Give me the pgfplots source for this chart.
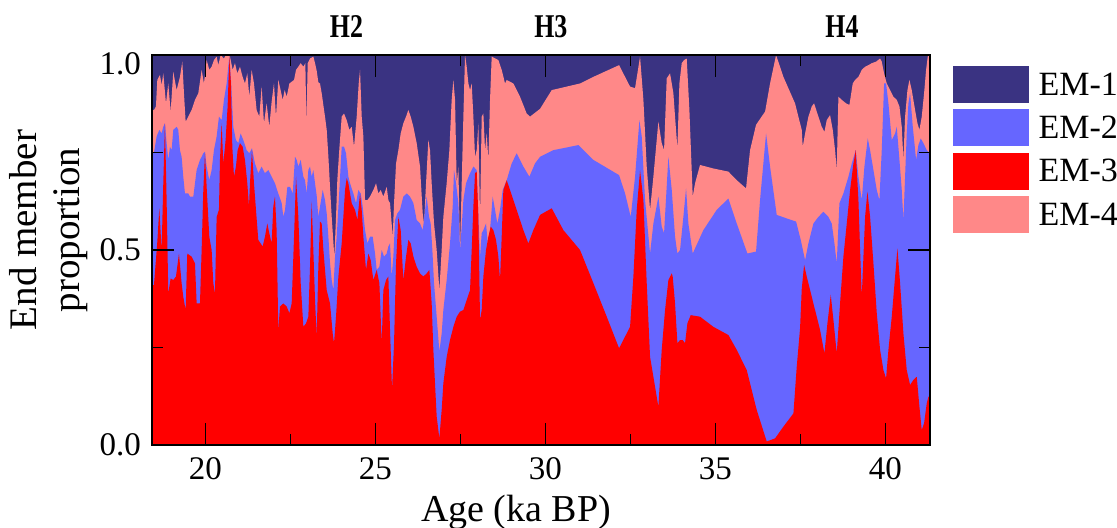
\documentclass[border=0pt]{standalone}
\usepackage{pgfplots}
\pgfplotsset{compat=1.18}
\usepackage{pgfplotstable}
\usepackage{fontspec}
\setmainfont{Liberation Serif}
\definecolor{emone}{HTML}{3A3382}
\definecolor{emtwo}{HTML}{6666FF}
\definecolor{emthree}{HTML}{FF0000}
\definecolor{emfour}{HTML}{FF8888}

% top of EM-3 (cumulative)
\pgfplotstableread{
x y
18.43 0.410
18.488 0.410
18.586 0.521
18.645 0.607
18.713 0.500
18.762 0.671
18.811 0.825
18.860 0.628
18.909 0.389
18.978 0.427
19.056 0.423
19.135 0.432
19.223 0.491
19.301 0.415
19.350 0.380
19.419 0.346
19.468 0.491
19.595 0.483
19.694 0.466
19.743 0.363
19.841 0.363
19.890 0.500
19.939 0.654
19.988 0.748
20.037 0.662
20.115 0.534
20.184 0.500
20.233 0.415
20.282 0.389
20.331 0.585
20.399 0.603
20.429 0.731
20.478 0.825
20.527 0.722
20.595 0.782
20.654 0.868
20.703 0.996
20.752 0.927
20.792 0.765
20.841 0.688
20.899 0.714
20.948 0.756
21.017 0.774
21.095 0.765
21.164 0.731
21.233 0.671
21.282 0.611
21.311 0.671
21.370 0.756
21.429 0.671
21.488 0.603
21.556 0.526
21.625 0.517
21.684 0.509
21.752 0.534
21.821 0.568
21.880 0.543
21.948 0.517
21.997 0.611
22.046 0.637
22.095 0.551
22.144 0.295
22.194 0.355
22.293 0.363
22.391 0.355
22.470 0.338
22.538 0.363
22.607 0.534
22.666 0.688
22.734 0.585
22.803 0.415
22.881 0.303
22.960 0.312
23.028 0.329
23.077 0.457
23.126 0.624
23.175 0.500
23.224 0.372
23.273 0.278
23.322 0.457
23.371 0.573
23.420 0.568
23.470 0.500
23.568 0.397
23.666 0.363
23.744 0.286
23.783 0.261
23.842 0.329
23.911 0.432
24.009 0.517
24.107 0.654
24.156 0.684
24.205 0.671
24.303 0.620
24.401 0.603
24.470 0.577
24.548 0.645
24.597 0.603
24.646 0.534
24.724 0.449
24.793 0.491
24.862 0.474
24.940 0.423
25.038 0.449
25.117 0.415
25.185 0.261
25.234 0.397
25.313 0.423
25.381 0.432
25.430 0.295
25.489 0.141
25.548 0.261
25.607 0.466
25.675 0.585
25.744 0.551
25.822 0.423
25.901 0.483
25.969 0.526
26.038 0.517
26.117 0.483
26.214 0.457
26.312 0.440
26.410 0.432
26.508 0.440
26.587 0.449
26.655 0.363
26.704 0.244
26.753 0.158
26.802 0.073
26.881 0.017
26.949 0.090
26.998 0.158
27.096 0.226
27.194 0.269
27.293 0.303
27.391 0.329
27.489 0.342
27.587 0.346
27.685 0.372
27.783 0.397
27.832 0.500
27.881 0.611
27.930 0.697
27.979 0.701
28.028 0.585
28.077 0.321
28.126 0.346
28.175 0.432
28.253 0.500
28.322 0.534
28.391 0.560
28.469 0.551
28.547 0.526
28.616 0.483
28.665 0.423
28.714 0.534
28.763 0.654
28.861 0.679
28.959 0.654
29.155 0.603
29.351 0.551
29.498 0.517
29.645 0.551
29.842 0.590
30.185 0.607
30.528 0.551
31.018 0.500
31.411 0.415
31.803 0.329
32.166 0.248
32.342 0.278
32.489 0.303
32.587 0.432
32.685 0.603
32.783 0.705
32.881 0.628
32.979 0.415
33.077 0.226
33.175 0.175
33.322 0.098
33.420 0.244
33.518 0.346
33.616 0.423
33.715 0.440
33.743 0.432
33.812 0.363
33.881 0.261
33.959 0.269
34.038 0.269
34.106 0.261
34.175 0.312
34.273 0.333
34.547 0.329
34.940 0.303
35.381 0.282
35.626 0.244
35.920 0.192
36.214 0.090
36.508 0.009
36.753 0.017
36.998 0.047
37.293 0.081
37.391 0.201
37.489 0.300
37.538 0.400
37.607 0.462
37.685 0.432
37.881 0.363
38.077 0.295
38.205 0.235
38.293 0.312
38.391 0.385
38.469 0.321
38.567 0.235
38.665 0.363
38.763 0.483
38.862 0.568
38.960 0.654
39.058 0.722
39.126 0.756
39.205 0.628
39.254 0.500
39.303 0.380
39.352 0.483
39.401 0.585
39.469 0.650
39.548 0.585
39.646 0.466
39.744 0.338
39.842 0.244
39.940 0.192
40.018 0.171
40.087 0.244
40.185 0.329
40.283 0.432
40.352 0.504
40.430 0.415
40.528 0.286
40.626 0.192
40.724 0.154
40.822 0.167
40.920 0.175
40.999 0.098
41.067 0.038
41.136 0.056
41.214 0.107
41.263 0.124
41.31 0.124
}\emthreetop

% top of EM-3 + EM-2 (cumulative)
\pgfplotstableread{
x y
18.43 0.750
18.488 0.750
18.566 0.791
18.645 0.808
18.713 0.799
18.762 0.816
18.811 0.825
18.860 0.774
18.909 0.731
18.958 0.765
19.007 0.756
19.056 0.808
19.154 0.816
19.203 0.808
19.252 0.756
19.301 0.739
19.350 0.688
19.399 0.645
19.497 0.645
19.546 0.637
19.645 0.637
19.694 0.671
19.743 0.705
19.841 0.731
19.890 0.739
19.939 0.748
19.988 0.752
20.037 0.714
20.115 0.679
20.184 0.705
20.252 0.756
20.331 0.791
20.399 0.842
20.478 0.833
20.546 0.885
20.625 0.927
20.703 0.996
20.752 0.936
20.821 0.816
20.899 0.782
20.968 0.774
21.037 0.799
21.115 0.782
21.213 0.756
21.292 0.748
21.370 0.761
21.458 0.722
21.556 0.697
21.654 0.714
21.752 0.697
21.850 0.705
21.948 0.688
22.046 0.671
22.144 0.645
22.213 0.628
22.244 0.620
22.293 0.585
22.342 0.603
22.411 0.662
22.489 0.662
22.568 0.645
22.636 0.739
22.685 0.731
22.734 0.714
22.803 0.731
22.881 0.688
22.930 0.679
22.979 0.645
23.028 0.705
23.077 0.714
23.126 0.688
23.175 0.705
23.224 0.671
23.273 0.640
23.322 0.585
23.371 0.611
23.450 0.654
23.518 0.628
23.568 0.594
23.617 0.534
23.666 0.466
23.715 0.423
23.764 0.397
23.813 0.483
23.862 0.534
23.940 0.654
24.009 0.765
24.077 0.765
24.136 0.748
24.205 0.688
24.254 0.671
24.352 0.645
24.430 0.620
24.499 0.654
24.568 0.645
24.626 0.611
24.695 0.551
24.764 0.517
24.842 0.534
24.920 0.534
24.989 0.491
25.038 0.449
25.117 0.457
25.185 0.500
25.254 0.483
25.332 0.491
25.381 0.509
25.430 0.517
25.479 0.432
25.528 0.483
25.577 0.577
25.646 0.594
25.724 0.603
25.822 0.637
25.920 0.645
26.018 0.637
26.117 0.620
26.214 0.577
26.312 0.568
26.391 0.551
26.440 0.585
26.508 0.637
26.577 0.585
26.626 0.568
26.675 0.500
26.724 0.415
26.802 0.329
26.881 0.240
26.949 0.286
26.998 0.346
27.096 0.423
27.194 0.517
27.273 0.611
27.312 0.705
27.371 0.671
27.440 0.620
27.489 0.500
27.538 0.560
27.587 0.628
27.665 0.671
27.783 0.697
27.881 0.714
27.979 0.705
28.028 0.585
28.077 0.483
28.126 0.543
28.175 0.551
28.253 0.568
28.322 0.500
28.371 0.551
28.449 0.637
28.518 0.603
28.587 0.568
28.665 0.603
28.743 0.654
28.861 0.679
29.008 0.722
29.155 0.748
29.351 0.714
29.528 0.688
29.694 0.722
29.842 0.739
30.234 0.756
30.969 0.769
31.411 0.731
32.166 0.692
32.342 0.645
32.509 0.585
32.636 0.688
32.764 0.833
32.832 0.791
32.930 0.628
33.077 0.491
33.175 0.568
33.322 0.637
33.420 0.560
33.489 0.543
33.616 0.739
33.715 0.654
33.812 0.534
33.881 0.491
33.959 0.500
34.057 0.585
34.136 0.658
34.204 0.568
34.332 0.491
34.645 0.551
35.038 0.603
35.381 0.632
35.626 0.568
35.940 0.491
36.194 0.496
36.312 0.628
36.489 0.799
36.606 0.714
36.802 0.590
37.096 0.581
37.371 0.573
37.508 0.526
37.636 0.474
37.734 0.517
37.881 0.568
38.028 0.585
38.175 0.598
38.322 0.585
38.420 0.568
38.499 0.517
38.567 0.466
38.646 0.620
38.763 0.645
38.911 0.688
39.009 0.722
39.126 0.756
39.205 0.688
39.303 0.628
39.381 0.714
39.479 0.786
39.548 0.756
39.646 0.705
39.744 0.654
39.822 0.628
39.891 0.756
39.960 0.927
40.018 0.927
40.087 0.876
40.185 0.782
40.283 0.799
40.332 0.816
40.411 0.731
40.479 0.654
40.528 0.577
40.577 0.688
40.626 0.799
40.675 0.876
40.724 0.902
40.803 0.816
40.901 0.731
40.969 0.769
41.038 0.786
41.116 0.774
41.214 0.756
41.31 0.748
}\emtwotop

% top of EM-3 + EM-2 + EM-4 (cumulative)
\pgfplotstableread{
x y
18.43 0.859
18.488 0.859
18.546 0.868
18.586 0.936
18.664 0.949
18.713 0.923
18.762 0.953
18.841 0.876
18.909 0.927
18.978 0.855
19.056 0.957
19.154 0.910
19.252 0.944
19.321 0.983
19.370 0.902
19.419 0.829
19.497 0.842
19.595 0.859
19.694 0.885
19.792 0.902
19.890 0.962
19.958 0.927
20.037 0.987
20.115 0.962
20.184 0.970
20.252 0.987
20.331 0.996
20.380 0.974
20.448 1.0
20.546 0.991
20.605 1.0
20.723 0.996
20.801 0.962
20.870 0.979
20.939 0.953
21.017 0.970
21.095 0.944
21.164 0.927
21.233 0.953
21.292 0.893
21.360 0.962
21.429 0.927
21.507 0.859
21.586 0.842
21.654 0.919
21.723 0.825
21.801 0.876
21.880 0.816
21.948 0.880
22.017 0.927
22.076 0.842
22.144 0.936
22.213 0.910
22.273 0.885
22.332 0.910
22.391 0.893
22.470 0.927
22.607 0.936
22.666 0.962
22.734 0.970
22.803 0.979
22.881 0.970
22.940 0.979
22.970 0.825
23.009 0.979
23.077 0.991
23.175 0.996
23.224 0.979
23.273 0.960
23.322 0.930
23.371 0.927
23.420 0.902
23.518 0.842
23.568 0.808
23.617 0.740
23.666 0.660
23.715 0.585
23.764 0.520
23.793 0.483
23.840 0.580
23.880 0.680
23.940 0.760
24.009 0.842
24.077 0.850
24.156 0.833
24.234 0.808
24.303 0.816
24.371 0.765
24.450 0.842
24.509 0.927
24.548 0.962
24.597 0.842
24.646 0.791
24.695 0.628
24.764 0.628
24.842 0.637
24.940 0.654
25.019 0.671
25.087 0.645
25.156 0.654
25.234 0.637
25.332 0.662
25.381 0.628
25.430 0.620
25.509 0.534
25.548 0.620
25.607 0.722
25.675 0.756
25.744 0.799
25.822 0.825
25.901 0.842
25.969 0.859
26.038 0.842
26.116 0.816
26.214 0.774
26.312 0.714
26.391 0.594
26.430 0.568
26.489 0.671
26.557 0.782
26.606 0.756
26.655 0.671
26.724 0.568
26.802 0.500
26.881 0.397
26.949 0.500
26.998 0.585
27.096 0.671
27.175 0.756
27.243 0.885
27.293 0.936
27.342 0.885
27.391 0.671
27.440 0.714
27.489 0.500
27.538 0.671
27.587 0.842
27.636 1.0
27.685 0.970
27.734 0.927
27.783 0.910
27.832 0.927
27.881 0.842
27.930 0.739
27.979 0.756
28.028 0.825
28.077 0.585
28.126 0.842
28.175 0.850
28.224 0.756
28.273 0.799
28.322 0.731
28.371 0.885
28.420 0.996
28.616 0.987
28.714 0.962
28.812 0.927
28.861 0.936
29.057 0.927
29.253 0.893
29.449 0.850
29.547 0.842
29.842 0.862
30.185 0.910
30.626 0.919
31.018 0.927
31.411 0.944
32.166 0.974
32.342 0.944
32.489 0.919
32.636 0.915
32.783 0.996
32.881 0.885
32.979 0.714
33.077 0.603
33.175 0.688
33.322 0.829
33.420 0.774
33.489 0.756
33.567 0.940
33.665 0.953
33.763 0.902
33.812 0.842
33.881 0.761
33.940 0.927
34.008 0.979
34.077 0.987
34.155 0.991
34.234 0.859
34.332 0.637
34.400 0.671
34.547 0.718
34.940 0.709
35.381 0.701
35.626 0.679
35.900 0.658
36.018 0.756
36.194 0.821
36.460 0.855
36.606 0.927
36.783 1.0
36.998 0.944
37.341 0.876
37.439 0.842
37.538 0.808
37.567 0.765
37.636 0.799
37.734 0.842
37.832 0.868
37.901 0.876
38.028 0.842
38.126 0.816
38.205 0.803
38.273 0.833
38.371 0.846
38.450 0.808
38.518 0.756
38.567 0.705
38.616 0.893
38.714 0.885
38.842 0.876
38.940 0.872
39.038 0.927
39.107 0.936
39.205 0.944
39.303 0.962
39.401 0.970
39.499 0.974
39.597 0.979
39.724 0.983
39.842 0.991
39.891 0.983
39.960 0.953
40.038 0.927
40.136 0.910
40.234 0.893
40.332 0.885
40.411 0.868
40.479 0.816
40.528 0.731
40.577 0.842
40.646 0.910
40.705 0.936
40.773 0.910
40.871 0.859
40.940 0.825
40.999 0.808
41.067 0.842
41.136 0.902
41.195 0.962
41.244 0.996
41.31 1.0
}\emfourtop

\pgfplotsset{
  emleg/.style={legend image code/.code={\path[fill=#1,draw=white,line width=0.4pt] (0pt,-4.2pt) rectangle (38.5pt,14.8pt);}}
}

\begin{document}
\begin{tikzpicture}
\begin{axis}[
  scale only axis,
  width=389pt, height=195pt,
  xmin=18.43, xmax=41.31, ymin=0, ymax=1,
  axis on top,
  clip mode=individual,
  axis line style={black, line width=0.6pt},
  xtick={20,25,30,35,40},
  minor xtick={22.5,27.5,32.5,37.5},
  ytick={0,0.5,1},
  minor ytick={0.25,0.75},
  yticklabels={0.0,0.5,\smash{\raisebox{-9.5pt}{1.0}}},
  tick align=inside,
  major tick length=11pt, minor tick length=5.5pt,
  every tick/.style={black, line width=0.6pt},
  minor tick style={black, line width=0.6pt},
  /pgf/number format/assume math mode=true,
  tick label style={font=\fontsize{16.5}{19}\selectfont},
  xticklabel style={yshift=-2.8pt},
  yticklabel style={xshift=-2pt},
  xlabel={Age (ka BP)},
  xlabel style={at={(rel axis cs:0.468,0)}, anchor=base, yshift=-38.3pt, font=\fontsize{19}{22}\selectfont},
  ylabel={End member\\proportion},
  ylabel style={at={(rel axis cs:0,0.551)}, anchor=south, yshift=32pt, inner sep=0pt, align=center, font=\fontsize{19.5}{21.5}\selectfont},
  legend style={at={(rel axis cs:1,1)}, anchor=north west, xshift=11pt, yshift=-4.8pt,
    draw=none, fill=none, inner sep=0pt, row sep=2.3pt, column sep=4.2pt,
    nodes={inner sep=0pt, anchor=base west},
    font=\fontsize{17}{20}\selectfont},
  legend cell align=left,
]
\addplot[fill=emone, draw=none, forget plot] coordinates {(18.43,1) (41.31,1)} \closedcycle;
\addplot[fill=emfour, draw=none, forget plot] table {\emfourtop} \closedcycle;
\addplot[fill=emtwo, draw=none, forget plot] table {\emtwotop} \closedcycle;
\addplot[fill=emthree, draw=none, forget plot] table {\emthreetop} \closedcycle;

\addlegendimage{emleg=emone}
\addlegendentry{EM-1}
\addlegendimage{emleg=emtwo}
\addlegendentry{EM-2}
\addlegendimage{emleg=emthree}
\addlegendentry{EM-3}
\addlegendimage{emleg=emfour}
\addlegendentry{EM-4}

\node[anchor=base, yshift=8.9pt, xscale=0.78, font=\bfseries\fontsize{16.6}{20}\selectfont] at (axis cs:24.15,1) {H2};
\node[anchor=base, yshift=8.9pt, xscale=0.78, font=\bfseries\fontsize{16.6}{20}\selectfont] at (axis cs:30.16,1) {H3};
\node[anchor=base, yshift=8.9pt, xscale=0.78, font=\bfseries\fontsize{16.6}{20}\selectfont] at (axis cs:38.72,1) {H4};

\coordinate (sw) at (rel axis cs:0,0);
\coordinate (ne) at (rel axis cs:1,1);
\end{axis}
\pgfresetboundingbox
\path ([shift={(-76pt,-41pt)}]sw) rectangle ([shift={(93.5pt,27.5pt)}]ne);
\end{tikzpicture}
\end{document}
